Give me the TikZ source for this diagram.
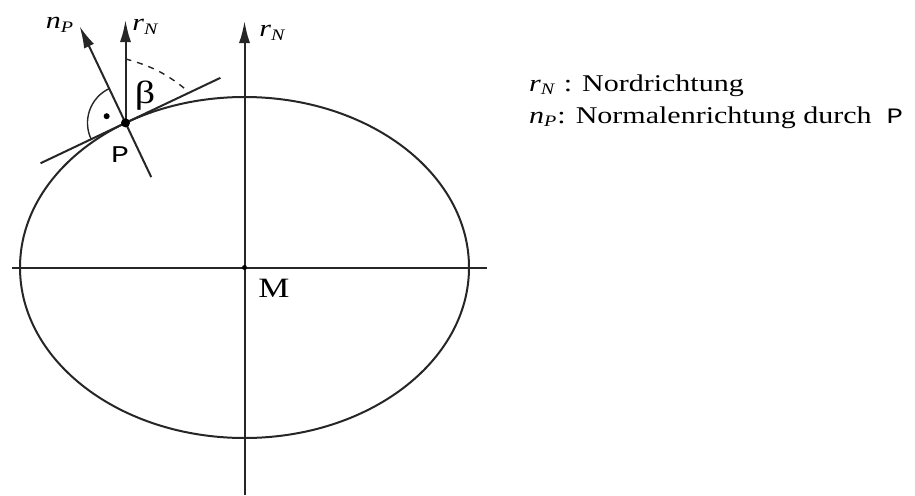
\documentclass[tikz,border=0pt]{standalone}
\usepackage{fontspec}
\setmainfont{Liberation Serif}
\setmonofont{Liberation Mono}
\usetikzlibrary{arrows.meta,calc}

\begin{document}
\begin{tikzpicture}[
    x=0.5pt,y=0.5pt,
    line/.style={line width=1pt,draw=black!85},
    arr/.style={line,-{Latex[length=11pt,width=5.5pt]}},
    lbl/.style={font=\fontsize{12}{14}\selectfont,xscale=1.25,transform shape,inner sep=1pt},
  ]
  \useasboundingbox (0,0) rectangle (915,495);
  % ellipse and axes
  \coordinate (M) at (244.5,227.5);
  \coordinate (P) at (125.5,372.1);
  \coordinate (west) at (12,227.5);
  \coordinate (east) at (487,227.5);
  \coordinate (south) at (244.5,0);
  \coordinate (north) at (244.5,474);
  \draw[line] (M) ellipse [x radius=112.25pt,y radius=85.25pt];
  \draw[line] (west) -- (east);
  \draw[arr] (south) -- (north);
  \fill (M) circle (2.5);
  % tangent, normal and north direction in P
  \coordinate (tanA) at ($(P)+(205.4:94)$);
  \coordinate (tanB) at ($(P)+(25.4:105)$);
  \coordinate (nTail) at ($(P)+(295.4:60)$);
  \coordinate (nTip) at ($(P)+(115.4:107)$);
  \coordinate (rTip) at (125.5,475);
  \coordinate (betaA) at ($(P)+(90:64)$);
  \coordinate (betaB) at ($(P)+(27:70)$);
  \draw[line] (tanA) -- (tanB);
  \draw[line] (nTail) -- (P);
  \draw[arr] (P) -- (nTip);
  \draw[arr] (P) -- (rTip);
  \draw[line,line width=0.7pt] ($(P)+(115.4:38)$) arc[start angle=115.4,end angle=205.4,radius=19pt];
  \fill ($(P)+(160.4:20)$) circle (3);
  \draw[line,line width=0.7pt,dashed] (betaA) to[bend left=12] (betaB);
  \fill (P) circle (4.5);
  % labels
  \node[lbl] (nP) at (60,470) {\textit{n}\textsubscript{\textit{P}}};
  \node[lbl] (rN) at (146,468) {\textit{r}\textsubscript{\textit{N}}};
  \node[lbl] (rNaxis) at (273,462) {\textit{r}\textsubscript{\textit{N}}};
  \node[lbl,font=\fontsize{16}{18}\selectfont] (beta) at (145,399) {β};
  \node[lbl,font=\fontsize{12}{14}\ttfamily] (Plbl) at (120,340) {P};
  \node[lbl,font=\fontsize{14}{16}\selectfont] (Mlbl) at (274,207) {M};
  % legend
  \node[lbl,anchor=base west] (leg1) at (526,404) {\textit{r}\textsubscript{\textit{N}} : Nordrichtung};
  \node[lbl,anchor=base west] (leg2) at (526,372) {\textit{n}\textsubscript{\textit{P}}: Normalenrichtung durch\ \ {\ttfamily\fontsize{11}{12}\selectfont P}};
\end{tikzpicture}
\end{document}
